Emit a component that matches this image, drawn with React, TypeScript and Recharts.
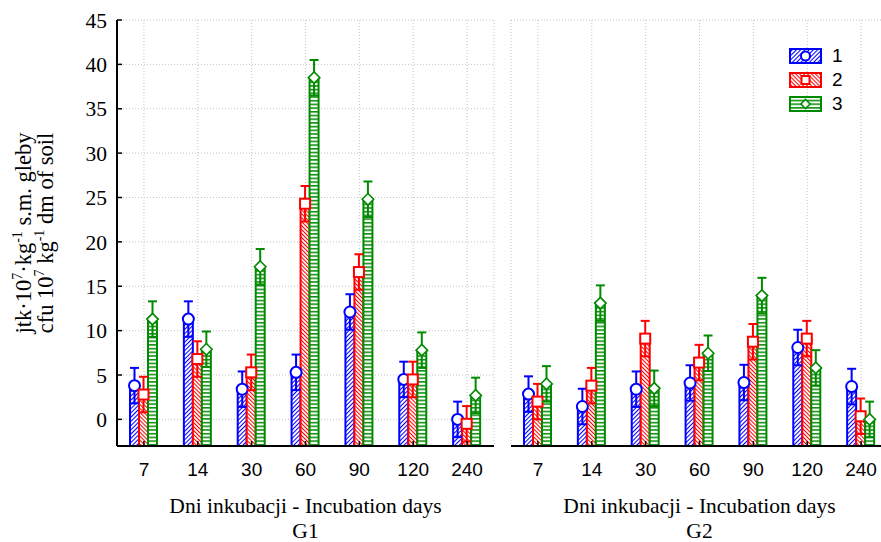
import React from 'react';
import { BarChart, Bar, XAxis, YAxis, CartesianGrid, Legend } from 'recharts';

// Incubation days (category axis)
const DAYS = ['7', '14', '30', '60', '90', '120', '240'];

// G1 – mean counts per treatment
const G1_SERIES_1 = [3.8, 11.3, 3.4, 5.3, 12.1, 4.5, 0.0];
const G1_SERIES_2 = [2.8, 6.8, 5.3, 24.3, 16.6, 4.5, -0.5];
const G1_SERIES_3 = [11.3, 7.9, 17.2, 38.5, 24.8, 7.8, 2.7];
// G1 – error half-widths
const G1_ERR_1 = [2.0, 2.0, 2.0, 2.0, 2.0, 2.0, 2.0];
const G1_ERR_2 = [2.0, 2.0, 2.0, 2.0, 2.0, 2.0, 2.0];
const G1_ERR_3 = [2.0, 2.0, 2.0, 2.0, 2.0, 2.0, 2.0];

// G2 – mean counts per treatment
const G2_SERIES_1 = [2.85, 1.45, 3.4, 4.1, 4.15, 8.1, 3.7];
const G2_SERIES_2 = [2.0, 3.8, 9.1, 6.4, 8.75, 9.1, 0.35];
const G2_SERIES_3 = [4.0, 13.1, 3.5, 7.45, 13.95, 5.8, 0.0];
// G2 – error half-widths
const G2_ERR_1 = [2.0, 2.0, 2.0, 2.0, 2.0, 2.0, 2.0];
const G2_ERR_2 = [2.0, 2.0, 2.0, 2.0, 2.0, 2.0, 2.0];
const G2_ERR_3 = [2.0, 2.0, 2.0, 2.0, 2.0, 2.0, 2.0];

const Y_TICKS = [0, 5, 10, 15, 20, 25, 30, 35, 40, 45];
const Y_MIN = -3;
const Y_MAX = 45;

const SERIES_NAMES = ['1', '2', '3'];
const GROUP_NAMES = ['G1', 'G2'];
const X_TITLE = 'Dni inkubacji - Incubation days';

const SERIF = '"Liberation Serif", "Times New Roman", serif';
const SANS = '"Liberation Sans", Arial, sans-serif';

type Marker = 'circle' | 'square' | 'diamond';
interface SeriesStyle {
  key: string;
  errKey: string;
  name: string;
  color: string;
  pattern: string;
  marker: Marker;
}

const SERIES: SeriesStyle[] = [
  { key: 's1', errKey: 'e1', name: SERIES_NAMES[0], color: '#0000ff', pattern: 'fill-s1', marker: 'circle' },
  { key: 's2', errKey: 'e2', name: SERIES_NAMES[1], color: '#ff0000', pattern: 'fill-s2', marker: 'square' },
  { key: 's3', errKey: 'e3', name: SERIES_NAMES[2], color: '#008a00', pattern: 'fill-s3', marker: 'diamond' },
];

function buildRows(values: number[][], errors: number[][]) {
  return DAYS.map((day, i) => ({
    day,
    s1: values[0][i],
    s2: values[1][i],
    s3: values[2][i],
    e1: errors[0][i],
    e2: errors[1][i],
    e3: errors[2][i],
  }));
}

const G1_ROWS = buildRows([G1_SERIES_1, G1_SERIES_2, G1_SERIES_3], [G1_ERR_1, G1_ERR_2, G1_ERR_3]);
const G2_ROWS = buildRows([G2_SERIES_1, G2_SERIES_2, G2_SERIES_3], [G2_ERR_1, G2_ERR_2, G2_ERR_3]);

function MarkerGlyph({ type, cx, cy, size, color }: { type: Marker; cx: number; cy: number; size: number; color: string }) {
  if (type === 'circle') {
    return <circle cx={cx} cy={cy} r={size} fill="#fff" stroke={color} strokeWidth={2} />;
  }
  if (type === 'square') {
    return <rect x={cx - size} y={cy - size} width={size * 2} height={size * 2} fill="#fff" stroke={color} strokeWidth={2} />;
  }
  const d = size * 1.15;
  return (
    <polygon
      points={`${cx},${cy - d} ${cx + d},${cy} ${cx},${cy + d} ${cx - d},${cy}`}
      fill="#fff"
      stroke={color}
      strokeWidth={1.6}
    />
  );
}

// Hatched bar body, spanning from the bottom of the value axis up to the mean
const makeBarShape = (s: SeriesStyle) => (props: any) => {
  const { x, y, width, height } = props;
  if (height == null || width == null) return <g />;
  return (
    <rect
      x={x}
      y={y}
      width={width}
      height={height}
      fill={`url(#${s.pattern})`}
      stroke={s.color}
      strokeWidth={2}
    />
  );
};

// Error whiskers plus the mean marker, laid out on the same band slot as the bar body
const makeMarkerShape = (s: SeriesStyle) => (props: any) => {
  const { x, y, width, height, payload } = props;
  const v = payload[s.key];
  const e = payload[s.errKey];
  const span = v - Y_MIN;
  if (!span || height == null) return <g />;
  const perUnit = height / span;
  const cx = x + width / 2;
  const top = y - e * perUnit;
  const bottom = y + e * perUnit;
  const cap = 4.5;
  return (
    <g>
      <line x1={cx} x2={cx} y1={top} y2={bottom} stroke={s.color} strokeWidth={2} />
      <line x1={cx - cap} x2={cx + cap} y1={top} y2={top} stroke={s.color} strokeWidth={2} />
      <line x1={cx - cap} x2={cx + cap} y1={bottom} y2={bottom} stroke={s.color} strokeWidth={2} />
      <MarkerGlyph type={s.marker} cx={cx} cy={y} size={s.marker === 'circle' ? 5.5 : 5} color={s.color} />
    </g>
  );
};

function Patterns() {
  return (
    <svg width={0} height={0} style={{ position: 'absolute' }}>
      <defs>
        <pattern id="fill-s1" patternUnits="userSpaceOnUse" width={3} height={3} patternTransform="rotate(45)">
          <rect width={3} height={3} fill="#fff" />
          <line x1={0.5} y1={0} x2={0.5} y2={3} stroke="#0000ff" strokeWidth={1.1} />
        </pattern>
        <pattern id="fill-s2" patternUnits="userSpaceOnUse" width={2.8} height={2.8} patternTransform="rotate(-45)">
          <rect width={2.8} height={2.8} fill="#fff" />
          <line x1={0.5} y1={0} x2={0.5} y2={2.8} stroke="#ff0000" strokeWidth={1.1} />
        </pattern>
        <pattern id="fill-s3" patternUnits="userSpaceOnUse" width={4} height={3.7}>
          <rect width={4} height={3.7} fill="#fff" />
          <line x1={0} y1={0.8} x2={4} y2={0.8} stroke="#008a00" strokeWidth={1.5} />
        </pattern>
      </defs>
    </svg>
  );
}

function LegendBox() {
  return (
    <div style={{ display: 'flex', flexDirection: 'column' }}>
      {SERIES.map((s) => (
        <div key={s.key} style={{ display: 'flex', alignItems: 'center', height: 24 }}>
          <svg width={33} height={16}>
            <rect x={1} y={1} width={31} height={14} fill={`url(#${s.pattern})`} stroke={s.color} strokeWidth={2} />
            <MarkerGlyph type={s.marker} cx={16.5} cy={8} size={s.marker === 'circle' ? 4.5 : 4} color={s.color} />
          </svg>
          <span style={{ marginLeft: 10, fontFamily: SANS, fontSize: 19, color: '#000', lineHeight: '24px' }}>{s.name}</span>
        </div>
      ))}
    </div>
  );
}

function YTitle(props: any) {
  const vb = props.viewBox || { x: 57, y: 20, width: 60, height: 426 };
  const cy = vb.y + vb.height / 2;
  const x1 = 31;
  const x2 = 53;
  const sup = { fontSize: 14 };
  return (
    <g fontFamily={SERIF} fontSize={22.5} fill="#000">
      <text x={x1} y={cy} textAnchor="middle" transform={`rotate(-90, ${x1}, ${cy})`}>
        <tspan>jtk·10</tspan>
        <tspan dy={-9} {...sup}>7</tspan>
        <tspan dy={9}>·kg</tspan>
        <tspan dy={-9} {...sup}>-1</tspan>
        <tspan dy={9}> s.m. gleby</tspan>
      </text>
      <text x={x2} y={cy} textAnchor="middle" transform={`rotate(-90, ${x2}, ${cy})`}>
        <tspan>cfu 10</tspan>
        <tspan dy={-9} {...sup}>7</tspan>
        <tspan dy={9}> kg</tspan>
        <tspan dy={-9} {...sup}>-1</tspan>
        <tspan dy={9}> dm of soil</tspan>
      </text>
    </g>
  );
}

const makeXTitle = (group: string) => (props: any) => {
  const vb = props.viewBox || { x: 0, y: 446, width: 377, height: 30 };
  const cx = vb.x + vb.width / 2;
  return (
    <g fontFamily={SERIF} fontSize={21.5} fill="#000" textAnchor="middle">
      <text x={cx} y={vb.y + 67}>{X_TITLE}</text>
      <text x={cx} y={vb.y + 92}>{group}</text>
    </g>
  );
};

interface PanelProps {
  rows: any[];
  group: string;
  width: number;
  margin: { top: number; right: number; bottom: number; left: number };
  yAxisWidth: number;
  showYLabels: boolean;
  showRightAxis: boolean;
  showLegend: boolean;
}

function Panel({ rows, group, width, margin, yAxisWidth, showYLabels, showRightAxis, showLegend }: PanelProps) {
  const axisLine = { stroke: '#000', strokeWidth: 2 };
  const tickLine = { stroke: '#000', strokeWidth: 1.5 };
  return (
    <BarChart width={width} height={542} data={rows} margin={margin} barSize={9} barGap={0}>
      <CartesianGrid xAxisId="b" yAxisId="l" stroke="#c4c4c4" strokeDasharray="1 2" strokeWidth={1} />
      <XAxis
        xAxisId="b"
        dataKey="day"
        orientation="bottom"
        height={30}
        interval={0}
        tickSize={-5}
        tickMargin={22}
        axisLine={axisLine}
        tickLine={tickLine}
        tick={{ fontFamily: SANS, fontSize: 19, fill: '#000' }}
        label={{ content: makeXTitle(group) } as any}
      />
      <XAxis
        xAxisId="t"
        dataKey="day"
        orientation="top"
        height={0}
        interval={0}
        tickSize={-5}
        tick={false}
        axisLine={axisLine}
        tickLine={tickLine}
      />
      <YAxis
        yAxisId="l"
        type="number"
        domain={[Y_MIN, Y_MAX]}
        ticks={Y_TICKS}
        allowDataOverflow
        width={yAxisWidth}
        tickSize={-5}
        tickMargin={15}
        axisLine={axisLine}
        tickLine={tickLine}
        tick={showYLabels ? { fontFamily: SERIF, fontSize: 21.5, fill: '#000' } : false}
        label={showYLabels ? ({ content: YTitle } as any) : undefined}
      />
      {showRightAxis && (
        <YAxis
          yAxisId="r"
          orientation="right"
          type="number"
          domain={[Y_MIN, Y_MAX]}
          ticks={Y_TICKS}
          allowDataOverflow
          width={0}
          tickSize={-5}
          tick={false}
          axisLine={axisLine}
          tickLine={tickLine}
        />
      )}
      {SERIES.map((s) => (
        <Bar
          key={`bar-${s.key}`}
          xAxisId="b"
          yAxisId="l"
          name={s.name}
          dataKey={(d: any) => [Y_MIN, d[s.key]]}
          fill={s.color}
          shape={makeBarShape(s)}
          isAnimationActive={false}
        />
      ))}
      {SERIES.map((s) => (
        <Bar
          key={`mk-${s.key}`}
          xAxisId="t"
          yAxisId="l"
          legendType="none"
          dataKey={(d: any) => [Y_MIN, d[s.key]]}
          fill={s.color}
          shape={makeMarkerShape(s)}
          isAnimationActive={false}
        />
      ))}
      {showLegend && (
        <Legend
          layout="vertical"
          align="center"
          verticalAlign="middle"
          wrapperStyle={{ left: 289, top: 44, width: 'auto', height: 'auto' }}
          content={() => <LegendBox />}
        />
      )}
    </BarChart>
  );
}

export default function App() {
  return (
    <div style={{ position: 'absolute', left: 0, top: 0, width: 881, height: 542, overflow: 'hidden', background: '#fff' }}>
      <Patterns />
      <div style={{ position: 'absolute', left: 0, top: 0 }}>
        <Panel
          rows={G1_ROWS}
          group={GROUP_NAMES[0]}
          width={500}
          margin={{ top: 20, right: 6, bottom: 66, left: 57 }}
          yAxisWidth={60}
          showYLabels
          showRightAxis
          showLegend={false}
        />
      </div>
      <div style={{ position: 'absolute', left: 500, top: 0 }}>
        <Panel
          rows={G2_ROWS}
          group={GROUP_NAMES[1]}
          width={400}
          margin={{ top: 20, right: 12, bottom: 66, left: 11 }}
          yAxisWidth={0}
          showYLabels={false}
          showRightAxis={false}
          showLegend
        />
      </div>
    </div>
  );
}
